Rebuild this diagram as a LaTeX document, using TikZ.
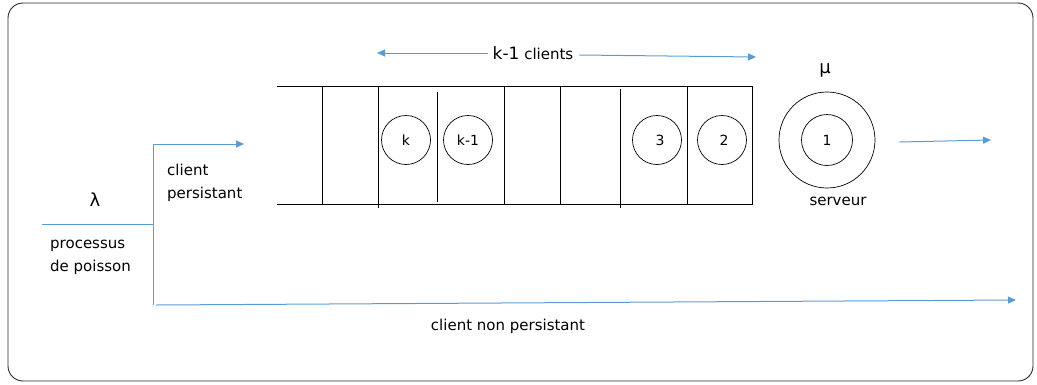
\documentclass[tikz,border=0pt]{standalone}
\usepackage{fontspec}
\setmainfont{DejaVu Sans}
\usetikzlibrary{arrows.meta}
\definecolor{flow}{RGB}{91,155,213}
\definecolor{framegray}{RGB}{40,40,40}
\begin{document}
\begin{tikzpicture}[x=1pt,y=-1pt,
  flowline/.style={draw=flow, line width=1pt},
  flowarrow/.style={flowline, -{Triangle[length=8pt,width=7pt]}},
  wall/.style={line width=0.8pt},
  client/.style={circle, draw, line width=0.7pt, minimum size=49pt, inner sep=0pt,
                 font=\fontsize{14}{16}\selectfont},
  txt/.style={inner sep=0pt, font=\fontsize{15}{23}\selectfont},
  greek/.style={inner sep=0pt, font=\fontsize{18}{20}\selectfont}]
\useasboundingbox (0,0) rectangle (1037,384);
% outer frame
\draw[framegray, line width=0.9pt, rounded corners=15pt] (8,3) rectangle (1033,381);

% waiting queue
\draw[wall] (277,86) -- (752,86) -- (752,204) -- (277,204);
\draw[wall] (322,86) -- (322,204);
\draw[wall] (378,86) -- (378,208);
\draw[wall] (437,92) -- (437,202);
\draw[wall] (504,86) -- (504,204);
\draw[wall] (560,86) -- (560,204);
\draw[wall] (620,89) -- (620,208);
\draw[wall] (687,86) -- (687,204);

% clients in the queue
\node[client] (ck)  at (406,140) {k};
\node[client] (ck1) at (468,140) {k-1};
\node[client] (c3)  at (657,140) {\hspace*{6pt}3};
\node[client] (c2)  at (722,140) {\hspace*{4pt}2};

% queue length
\node[txt] (kc) at (533,53) {{\fontsize{17}{20}\selectfont k-1} clients};
\coordinate (kl) at (377,53);
\coordinate (kr) at (756,57);
\draw[flowarrow] ([xshift=-5pt]kc.west) -- (kl);
\draw[flowarrow] ([xshift=6pt,yshift=-2pt]kc.east) -- (kr);

% server
\node[circle, draw, line width=0.7pt, minimum size=96pt, inner sep=0pt] (srv) at (827,140) {};
\node[client, minimum size=51pt] (c1) at (827,140) {1};
\node[greek] (mu) at (825,70) {μ};
\node[txt] (serv) at (838,201) {serveur};
\coordinate (out) at (991,140);
\draw[flowarrow] ([xshift=24pt,yshift=-2pt]srv.east) -- (out);

% arrivals
\node[greek] (lambda) at (95,200) {λ};
\node[txt, anchor=west, align=left] (poisson) at (50,257) {processus\\de poisson};
\coordinate (src) at (42,224);
\coordinate (split) at (153,224);
\coordinate (up) at (153,144);
\coordinate (down) at (153,305);
\coordinate (qin) at (244,144);
\coordinate (exit) at (1016,300);
\draw[flowline] (src) -- (split);
\draw[flowline] (up) -- (down);
\draw[flowarrow] (up) -- (qin);
\draw[flowarrow] ([xshift=3pt]down) -- (exit);
\node[txt, anchor=west, align=left] (pers) at (167,183) {client\\persistant};
\node[txt] (nonpers) at (508,326) {client non persistant};
\end{tikzpicture}
\end{document}
